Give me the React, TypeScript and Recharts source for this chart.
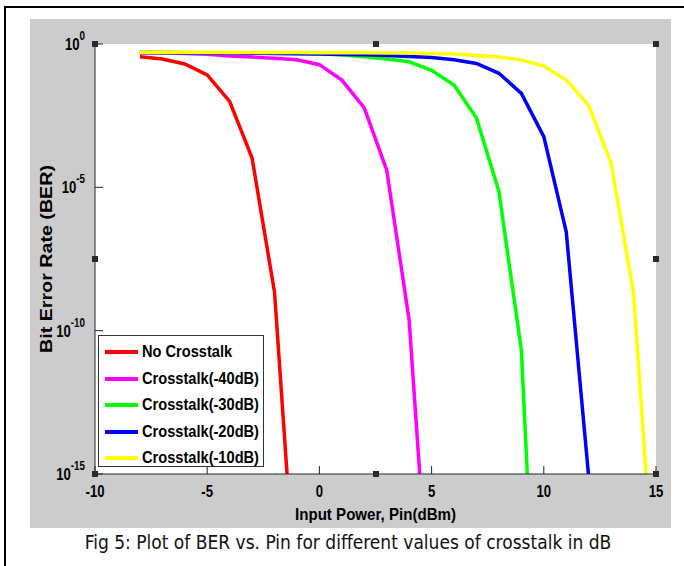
import { LineChart, Line, XAxis, YAxis, Legend } from "recharts";

// input power, dBm
const pinDbm = [-8, -7, -6, -5, -4, -3, -2, -1, 0, 1, 2, 3, 4, 5, 6, 7, 8, 9, 10, 11, 12, 13, 14, 15];

// BER (null where the curve has already left the axes)
const noCrosstalk = [0.36, 0.3, 0.2, 0.083, 0.01, 1.05e-4, 2.2e-9, 1e-20,
  null, null, null, null, null, null, null, null, null, null, null, null, null, null, null, null];
const xt40 = [0.5, 0.49, 0.47, 0.44, 0.38, 0.35, 0.32, 0.28, 0.19, 0.055, 5.9e-3, 4.0e-5, 2.3e-10, 1e-21,
  null, null, null, null, null, null, null, null, null, null];
const xt30 = [0.51, 0.51, 0.5, 0.5, 0.49, 0.49, 0.48, 0.47, 0.45, 0.42, 0.36, 0.3, 0.24, 0.12, 0.037, 2.6e-3,
  7.1e-6, 2.1e-11, 1e-27, null, null, null, null, null];
const xt20 = [0.51, 0.51, 0.5, 0.5, 0.49, 0.48, 0.47, 0.46, 0.45, 0.43, 0.42, 0.4, 0.37, 0.34, 0.28, 0.21,
  0.095, 0.019, 5.9e-4, 2.8e-7, 8e-16, null, null, null];
const xt10 = [0.52, 0.52, 0.52, 0.52, 0.51, 0.51, 0.51, 0.51, 0.5, 0.5, 0.5, 0.49, 0.49, 0.47, 0.45, 0.4,
  0.35, 0.28, 0.17, 0.055, 7.4e-3, 6.9e-5, 2.0e-9, 1e-20];

const seriesKeys = ["none", "m40", "m30", "m20", "m10"];
const seriesNames = ["No Crosstalk", "Crosstalk(-40dB)", "Crosstalk(-30dB)", "Crosstalk(-20dB)", "Crosstalk(-10dB)"];
const seriesColors = ["#ff0000", "#ff00ff", "#00ff00", "#0000ff", "#ffff00"];
const seriesValues = [noCrosstalk, xt40, xt30, xt20, xt10];

const xTicks = [-10, -5, 0, 5, 10, 15];
const yTicks = [1, 1e-5, 1e-10, 1e-15];

const data = pinDbm.map((x, i) => {
  const row: Record<string, number | null> = { pin: x };
  seriesKeys.forEach((k, s) => (row[k] = seriesValues[s][i]));
  return row;
});

const W = 684;
const H = 566;
const PLOT = { left: 95, top: 44, right: 656, bottom: 474 };
// no Arial Narrow here, so squeeze Liberation Sans (Arial metrics) sideways
const sans = "'Liberation Sans', Arial, sans-serif";
const SQ = 0.82;
const axisColor = "#262626";

function XTick({ x, y, payload }: any) {
  return (
    <text
      transform={`translate(${x} ${y + 17}) scale(${SQ} 1)`}
      textAnchor="middle"
      fontFamily={sans}
      fontWeight="bold"
      fontSize={16}
      fill="#000"
    >
      {payload.value}
    </text>
  );
}

function YTick({ x, y, payload }: any) {
  const exp = Math.round(Math.log10(payload.value));
  return (
    <text
      transform={`translate(${x - 2} ${y + 6}) scale(${SQ} 1)`}
      textAnchor="end"
      fontFamily={sans}
      fontWeight="bold"
      fill="#000"
    >
      <tspan fontSize={16}>10</tspan>
      <tspan fontSize={12} dy={-10}>{exp === 0 ? "0" : `-${Math.abs(exp)}`}</tspan>
    </text>
  );
}

const xLabel = () => (
  <text
    x={(PLOT.left + PLOT.right) / 2}
    y={520}
    textAnchor="middle"
    fontFamily={sans}
    fontWeight="bold"
    fontSize={17}
    textLength={161}
    lengthAdjust="spacingAndGlyphs"
    fill="#000"
  >
    Input Power, Pin(dBm)
  </text>
);

const yLabel = () => (
  <text
    transform={`translate(52 ${(PLOT.top + PLOT.bottom) / 2}) rotate(-90)`}
    textAnchor="middle"
    fontFamily={sans}
    fontWeight="bold"
    fontSize={16}
    textLength={188}
    lengthAdjust="spacingAndGlyphs"
    fill="#000"
  >
    Bit Error Rate (BER)
  </text>
);

function LegendBox() {
  return (
    <div
      style={{
        position: "relative",
        width: 164,
        height: 130,
        background: "#fff",
        border: "1px solid #333",
        fontFamily: sans,
        fontWeight: "bold",
        fontSize: 17,
      }}
    >
      {seriesNames.map((name, i) => (
        <div key={name} style={{ position: "absolute", left: 0, top: 3 + i * 26.5, height: 26, width: 164 }}>
          <div
            style={{ position: "absolute", left: 6, top: 11, width: 33, height: 4, background: seriesColors[i] }}
          />
          <div
            style={{
              position: "absolute",
              left: 43,
              top: 3,
              lineHeight: "20px",
              whiteSpace: "nowrap",
              color: "#000",
              transform: "scaleX(0.86)",
              transformOrigin: "left center",
            }}
          >
            {name}
          </div>
        </div>
      ))}
    </div>
  );
}

const handles = [
  [PLOT.left, PLOT.top],
  [(PLOT.left + PLOT.right) / 2, PLOT.top],
  [PLOT.right, PLOT.top],
  [PLOT.left, (PLOT.top + PLOT.bottom) / 2],
  [PLOT.right, (PLOT.top + PLOT.bottom) / 2],
  [PLOT.left, PLOT.bottom],
  [(PLOT.left + PLOT.right) / 2, PLOT.bottom],
  [PLOT.right, PLOT.bottom],
];

export default function App() {
  return (
    <div style={{ position: "absolute", left: 0, top: 0, width: W, height: H, background: "#fff", overflow: "hidden" }}>
      <div style={{ position: "absolute", left: 4, top: 6, width: W + 20, height: H + 20, borderLeft: "2px solid #000", borderTop: "2px solid #000" }} />
      <div style={{ position: "absolute", left: 30, top: 19, width: 641, height: 509, background: "#cccccc" }} />
      <div
        style={{
          position: "absolute",
          left: PLOT.left,
          top: PLOT.top,
          width: PLOT.right - PLOT.left,
          height: PLOT.bottom - PLOT.top,
          background: "#fff",
        }}
      />
      <div style={{ position: "absolute", left: 0, top: 0 }}>
        <LineChart
          width={W}
          height={H}
          data={data}
          margin={{ top: PLOT.top, right: W - PLOT.right, bottom: H - PLOT.bottom - 30, left: PLOT.left - 60 }}
        >
          <XAxis
            dataKey="pin"
            type="number"
            domain={[-10, 15]}
            ticks={xTicks}
            allowDataOverflow
            height={30}
            tickSize={-8}
            tickMargin={14}
            tick={<XTick />}
            stroke={axisColor}
            interval={0}
            label={xLabel}
          />
          <XAxis
            xAxisId="top"
            orientation="top"
            dataKey="pin"
            type="number"
            domain={[-10, 15]}
            ticks={xTicks}
            height={0}
            tickSize={-8}
            tick={false}
            stroke={axisColor}
          />
          <YAxis
            type="number"
            scale="log"
            domain={[1e-15, 1]}
            ticks={yTicks}
            allowDataOverflow
            width={60}
            tickSize={-8}
            tickMargin={16}
            tick={<YTick />}
            stroke={axisColor}
            interval={0}
            label={yLabel}
          />
          <YAxis
            yAxisId="right"
            orientation="right"
            type="number"
            scale="log"
            domain={[1e-15, 1]}
            ticks={yTicks}
            allowDataOverflow
            width={0}
            tickSize={-8}
            tick={false}
            stroke={axisColor}
          />
          {seriesKeys.map((k, i) => (
            <Line
              key={k}
              type="linear"
              dataKey={k}
              name={seriesNames[i]}
              stroke={seriesColors[i]}
              strokeWidth={3.5}
              dot={false}
              isAnimationActive={false}
            />
          ))}
          <Legend
            layout="horizontal"
            verticalAlign="middle"
            align="center"
            content={() => <LegendBox />}
            wrapperStyle={{ left: 98, top: 335, width: 166 }}
          />
        </LineChart>
      </div>
      {handles.map(([hx, hy], i) => (
        <div
          key={i}
          style={{ position: "absolute", left: hx - 3, top: hy - 3, width: 6, height: 6, background: "#2a2a2a" }}
        />
      ))}
      <div
        style={{
          position: "absolute",
          left: 0,
          width: 696,
          top: 531,
          textAlign: "center",
          fontFamily: "'DejaVu Sans Condensed', sans-serif",
          fontSize: 19,
          color: "#111",
        }}
      >
        Fig 5: Plot of BER vs. Pin for different values of crosstalk in dB
      </div>
    </div>
  );
}
